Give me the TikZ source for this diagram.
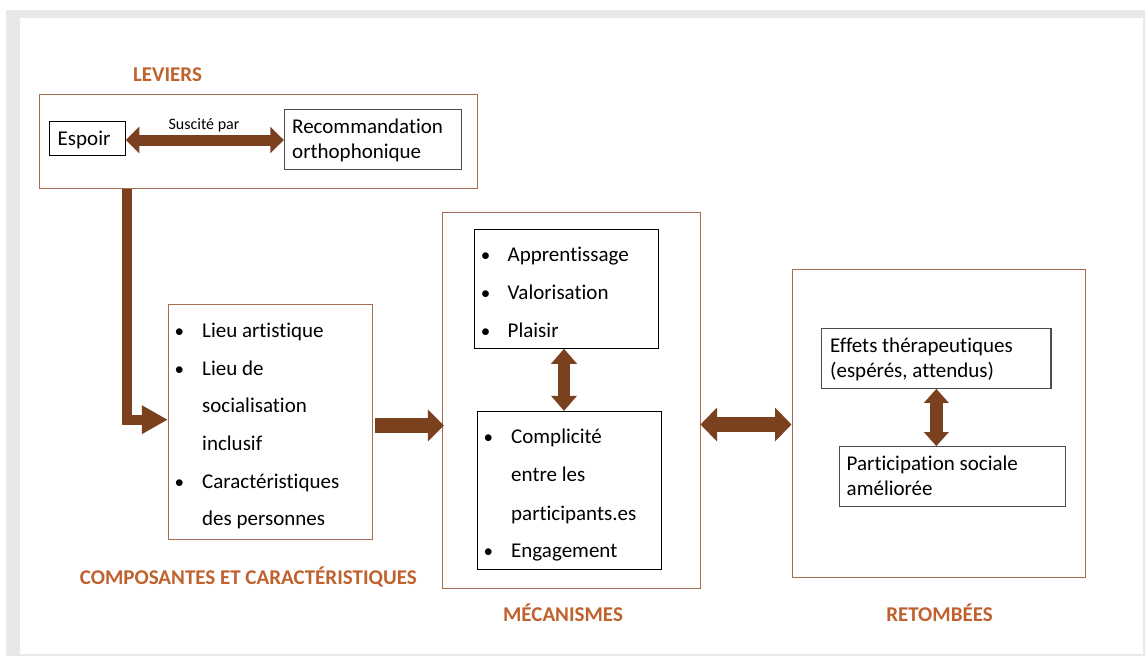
\documentclass[tikz,border=0pt]{standalone}
\usepackage{fontspec}
\setmainfont{Carlito}[Ligatures={NoCommon,NoRare,NoContextual}]
\usetikzlibrary{arrows.meta,calc}
\definecolor{arrowbrown}{RGB}{123,64,30}
\definecolor{titlecol}{RGB}{192,98,46}
\definecolor{framebrown}{RGB}{168,108,78}
\definecolor{pagegrey}{RGB}{232,232,232}
\begin{document}
\begin{tikzpicture}[x=1pt,y=-1pt,
  outerbox/.style={draw=framebrown, line width=1pt, inner sep=0pt, rectangle},
  blackbox/.style={draw=black, line width=0.9pt, inner sep=0pt, rectangle},
  greybox/.style={draw=black!70, line width=1.1pt, inner sep=0pt, rectangle},
  txt/.style={anchor=base west, inner sep=0pt, font=\fontsize{21}{25}\selectfont},
  bul/.style={anchor=base, inner sep=0pt, font=\fontsize{19}{25}\selectfont},
  small/.style={anchor=base, inner sep=0pt, font=\fontsize{16}{19}\selectfont},
  title/.style={anchor=base, inner sep=0pt, text=titlecol, font=\fontsize{21}{25}\selectfont\bfseries},
  fat/.style={draw=arrowbrown, line join=miter}
]
\useasboundingbox (0,0) rectangle (1145,656);
\fill[white] (0,0) rectangle (1145,656);
\fill[pagegrey] (6,10) rectangle (1145,656);
\fill[white] (20,18) rectangle (1143,654);

% boxes
\node[outerbox, minimum width=438pt, minimum height=94pt] (lev) at (258.3,141.3) {};
\node[blackbox, minimum width=76pt, minimum height=34pt] (espoir) at (87.3,138.3) {};
\node[greybox, minimum width=176.7pt, minimum height=60pt] (recom) at (372.7,139.3) {};
\node[outerbox, minimum width=204.4pt, minimum height=234.7pt] (comp) at (270.5,421.7) {};
\node[outerbox, minimum width=257.3pt, minimum height=375.6pt] (mec) at (571.35,400.5) {};
\node[blackbox, minimum width=184.7pt, minimum height=119.3pt] (mectop) at (566.35,288.65) {};
\node[blackbox, minimum width=184.4pt, minimum height=158pt] (mecbot) at (569.5,490.3) {};
\node[outerbox, minimum width=293.7pt, minimum height=308pt] (ret) at (938.85,423.3) {};
\node[greybox, minimum width=229.3pt, minimum height=60pt] (eff) at (936.35,358.3) {};
\node[greybox, minimum width=226pt, minimum height=60pt] (part) at (952.3,476.7) {};

% titles
\node[title] (tlev) at (167.5,81.7) {LEVIERS};
\node[title] (tcomp) at (248.3,584.3) {COMPOSANTES ET CARACTÉRISTIQUES};
\node[title] (tmec) at (563,621) {MÉCANISMES};
\node[title] (tret) at (939.5,621) {RETOMBÉES};

% leviers texts
\node[txt] (tespoir) at (57.5,145.7) {Espoir};
\node[txt] (trec1) at (292,133.3) {Recommandation};
\node[txt] (trec2) at (292,158) {orthophonique};
\node[small] (tsusc) at (204,129) {Suscité par};

% composantes
\node[bul] (cb1) at (179.3,337) {\textbullet};
\node[txt] (c1) at (202,337) {Lieu artistique};
\node[bul] (cb2) at (179.3,375) {\textbullet};
\node[txt] (c2) at (202,375) {Lieu de};
\node[txt] (c3) at (202,412.5) {socialisation};
\node[txt] (c4) at (202,450) {inclusif};
\node[bul] (cb5) at (179.3,488) {\textbullet};
\node[txt] (c5) at (202,488) {Caractéristiques};
\node[txt] (c6) at (202,525.5) {des personnes};

% mecanismes top
\node[bul] (mb1) at (485.7,261.7) {\textbullet};
\node[txt] (m1) at (507.5,261.7) {Apprentissage};
\node[bul] (mb2) at (485.7,299.3) {\textbullet};
\node[txt] (m2) at (507.5,299.3) {Valorisation};
\node[bul] (mb3) at (485.7,337.3) {\textbullet};
\node[txt] (m3) at (507.5,337.3) {Plaisir};

% mecanismes bottom
\node[bul] (nb1) at (488.3,443.3) {\textbullet};
\node[txt] (n1) at (511,443.3) {Complicité};
\node[txt] (n2) at (511,481.7) {entre les};
\node[txt] (n3) at (511,520) {participants.es};
\node[bul] (nb4) at (488.3,557.3) {\textbullet};
\node[txt] (n4) at (511,557.3) {Engagement};

% retombees
\node[txt] (e1) at (830,352.3) {Effets thérapeutiques};
\node[txt] (e2) at (830,377.3) {(espérés, attendus)};
\node[txt] (p1) at (846.5,470.7) {Participation sociale};
\node[txt] (p2) at (846.5,495.7) {améliorée};

% arrows
\draw[fat, line width=11pt, {Triangle[length=13.5pt,width=26pt]}-{Triangle[length=13.5pt,width=26pt]}]
  ([yshift=-1.7pt]espoir.east) -- ([yshift=-1.7pt]espoir.east -| recom.west);
\coordinate (elbx) at (126.7,0);
\draw[fat, line width=10pt, -{Triangle[length=26pt,width=27pt]}]
  (lev.south -| elbx) |- ([yshift=2pt]comp.west);
\draw[fat, line width=15.6pt, -{Triangle[length=16pt,width=31pt]}]
  ([xshift=1.6pt,yshift=-3.8pt]comp.east) -- ([xshift=1.6pt,yshift=-3.8pt]comp.east -| mec.west);
\draw[fat, line width=12.3pt, {Triangle[length=15pt,width=25pt]}-{Triangle[length=15pt,width=25pt]}]
  ([xshift=-2.35pt]mectop.south) -- ([xshift=-2.35pt]mectop.south |- mecbot.north);
\draw[fat, line width=15.6pt, {Triangle[length=16.5pt,width=33pt]}-{Triangle[length=16.5pt,width=33pt]}]
  ([yshift=-1.2pt]ret.west -| mec.east) -- ([yshift=-1.2pt]ret.west);
\draw[fat, line width=13pt, {Triangle[length=14pt,width=24pt]}-{Triangle[length=14pt,width=24pt]}]
  (eff.south) -- (eff.south |- part.north);
\end{tikzpicture}
\end{document}
